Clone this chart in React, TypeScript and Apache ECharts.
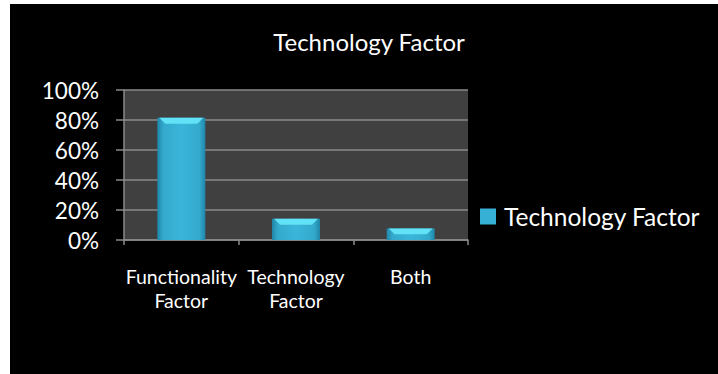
import React, { useEffect, useRef } from "react";
import * as echarts from "echarts";

const chartTitle = "Technology Factor";
const seriesName = "Technology Factor";
const categories = ["Functionality\nFactor", "Technology\nFactor", "Both"];
const values = [0.815, 0.142, 0.077];
const yTicks = [0, 0.2, 0.4, 0.6, 0.8, 1.0];

const FONT = "Lato";

export default function App() {
  const ref = useRef<HTMLDivElement>(null);
  useEffect(() => {
    if (!ref.current) return;
    const chart = echarts.init(ref.current, null, { renderer: "svg" });
    const bodyGrad = new echarts.graphic.LinearGradient(0, 0, 1, 0, [
      { offset: 0, color: "#1f86a8" },
      { offset: 0.12, color: "#33a9cc" },
      { offset: 0.5, color: "#3ab6da" },
      { offset: 0.88, color: "#33a9cc" },
      { offset: 1, color: "#1f86a8" },
    ]);
    chart.setOption({
      animation: false,
      backgroundColor: "#000000",
      title: {
        text: chartTitle,
        left: 359,
        top: 25,
        padding: 0,
        textAlign: "center",
        textStyle: { color: "#ffffff", fontFamily: FONT, fontSize: 24, fontWeight: "normal" },
      },
      legend: {
        left: 470,
        top: 200,
        padding: 0,
        itemWidth: 16,
        itemHeight: 16,
        data: [{ name: seriesName, icon: "rect", itemStyle: { color: "#36b0d4" } }],
        textStyle: { color: "#ffffff", fontFamily: FONT, fontSize: 24.5, padding: [0, 0, 0, 3] },
      },
      grid: {
        left: 114,
        top: 86,
        width: 344,
        height: 150,
        show: true,
        backgroundColor: "#404040",
        borderWidth: 0,
      },
      xAxis: {
        type: "category",
        data: categories,
        boundaryGap: true,
        axisLine: { show: true, lineStyle: { color: "#8a8a8a", width: 1.5 } },
        axisTick: { show: true, length: 5, lineStyle: { color: "#8a8a8a", width: 1.5 } },
        axisLabel: {
          color: "#ffffff",
          fontFamily: FONT,
          fontSize: 19.5,
          lineHeight: 24,
          margin: 24,
          interval: 0,
        },
      },
      yAxis: {
        type: "value",
        min: 0,
        max: 1,
        interval: 0.2,
        axisLine: { show: true, lineStyle: { color: "#8a8a8a", width: 1.5 } },
        axisTick: { show: true, length: 8, lineStyle: { color: "#8a8a8a", width: 1.5 } },
        splitLine: { show: true, lineStyle: { color: "#8a8a8a", width: 1.5 } },
        axisLabel: {
          color: "#ffffff",
          fontFamily: FONT,
          fontSize: 22.5,
          margin: 25,
          customValues: yTicks,
          formatter: (v: number) => Math.round(v * 100) + "%",
        },
      },
      series: [
        {
          name: seriesName,
          type: "custom",
          itemStyle: { color: "#36b0d4" },
          encode: { x: 0, y: 1 },
          data: values.map((v, i) => [i, v]),
          renderItem: (params: any, api: any) => {
            const idx = api.value(0);
            const val = api.value(1);
            const top = api.coord([idx, val]);
            const base = api.coord([idx, 0]);
            const w = 48;
            const x = top[0] - w / 2;
            const h = base[1] - top[1];
            const bev = Math.min(6, h / 2);
            return {
              type: "group",
              children: [
                {
                  type: "rect",
                  shape: { x, y: top[1], width: w, height: h },
                  style: { fill: bodyGrad },
                },
                {
                  type: "polygon",
                  shape: {
                    points: [
                      [x + 2, top[1]],
                      [x + w - 2, top[1]],
                      [x + w - 8, top[1] + bev],
                      [x + 8, top[1] + bev],
                    ],
                  },
                  style: { fill: "#62e2f6" },
                },
              ],
            };
          },
        },
      ],
    });
    return () => chart.dispose();
  }, []);
  return (
    <div
      ref={ref}
      style={{ position: "fixed", left: 10, top: 4, width: 708, height: 370 }}
    />
  );
}
